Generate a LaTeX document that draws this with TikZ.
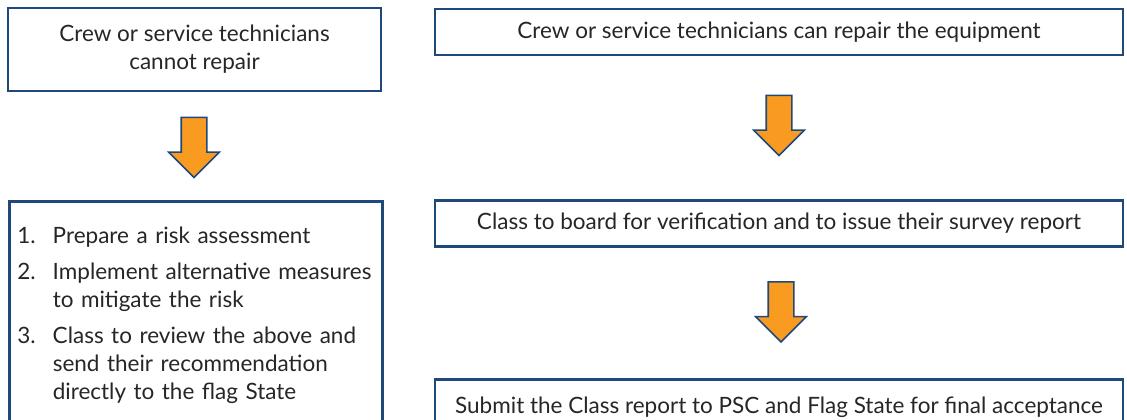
\documentclass[tikz,border=0pt]{standalone}
\usepackage{fontspec}
\setmainfont{Lato}
\usetikzlibrary{shapes,arrows,positioning}
\definecolor{boxblue}{RGB}{31,73,125}
\definecolor{arroworange}{RGB}{248,155,32}
\definecolor{textgray}{RGB}{38,38,38}
\tikzstyle{block} = [draw=boxblue, line width=2.8pt, rectangle, inner sep=0pt, text=textgray, font=\fontsize{22.5}{28}\selectfont]
\tikzstyle{downarrow} = [single arrow, draw=boxblue, fill=arroworange, line width=1.6pt, inner xsep=0pt, inner ysep=12pt, minimum height=60pt, single arrow head extend=12.5pt, rotate=-90]

\begin{document}
\begin{tikzpicture}[x=1pt, y=-1pt]
	\clip (0,0) rectangle (1127,420);

	% CANNOT REPAIR
	\node[block, minimum width=373pt, minimum height=83pt, align=center] (cannot) at (194.5,49.5) {Crew or service technicians\\cannot repair};
	\node[downarrow] (arrowL) at (194,141) {};
	\node[block, anchor=north west, minimum width=373pt, inner xsep=8pt, inner ysep=22pt, text width=357pt, align=left] (steps) at (8,200) {%
		\begin{tabular}{@{}l@{\hspace{17pt}}l@{}}
		1. & Prepare a risk assessment\\[8pt]
		2. & Implement alternative measures\\
		   & to mitigate the risk\\[8pt]
		3. & Class to review the above and\\
		   & send their recommendation\\
		   & directly to the flag State
		\end{tabular}};

	% CAN REPAIR
	\node[block, minimum width=688pt, minimum height=46pt] (can) at (779,32) {Crew or service technicians can repair the equipment};
	\node[downarrow] (arrowR1) at (779,119) {};
	\node[block, minimum width=688pt, minimum height=46pt] (verify) at (779,223.5) {Class to board for verification and to issue their survey report};
	\node[downarrow] (arrowR2) at (781,305.5) {};
	\node[block, anchor=north, minimum width=688pt, minimum height=56pt] (submit) at (779,378) {Submit the Class report to PSC and Flag State for final acceptance};

\end{tikzpicture}
\end{document}
